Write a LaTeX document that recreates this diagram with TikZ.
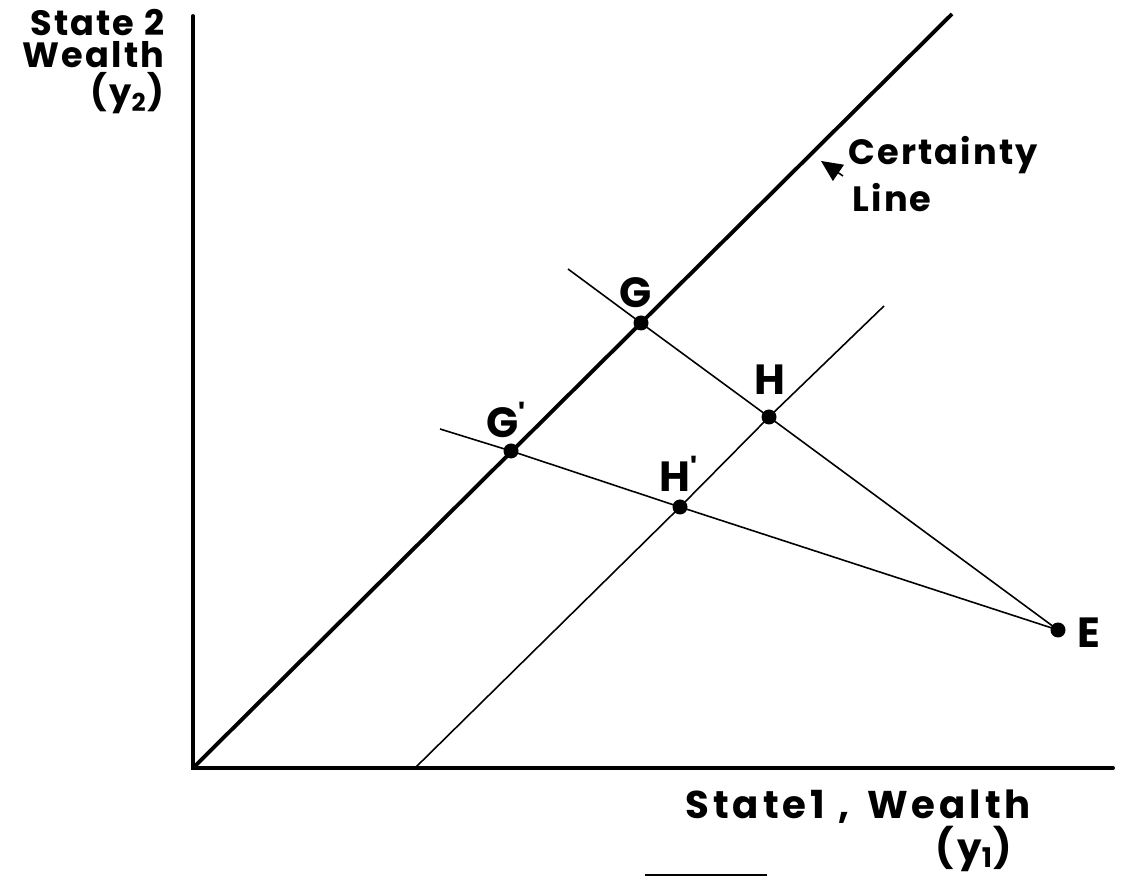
\documentclass[tikz,border=0pt]{standalone}
\usepackage{fontspec}
\setmainfont{Poppins}
\usetikzlibrary{arrows.meta}
\tikzset{
  axis/.style={line width=1.1pt, line cap=round},
  certline/.style={line width=1.1pt},
  thinline/.style={line width=0.45pt},
  dot/.style={circle, fill=black, inner sep=0pt, minimum size=0.15cm},
  lbl/.style={font=\fontsize{10}{12}\selectfont\bfseries\addfontfeatures{LetterSpace=6}, inner sep=0pt},
  biglbl/.style={font=\fontsize{11}{13}\selectfont\bfseries\addfontfeatures{LetterSpace=10}, inner sep=0pt},
  ptlbl/.style={font=\fontsize{12}{14}\selectfont\bfseries, inner sep=0pt},
}
\newcommand{\prm}{\raisebox{0.45ex}{\fontsize{9}{9}\selectfont\textquotesingle}}
\begin{document}
\begin{tikzpicture}[x=0.01cm,y=-0.01cm]
\useasboundingbox (0,0) rectangle (1125,877);
% axes
\coordinate (O) at (193,768);
\coordinate (ytop) at (193,16);
\coordinate (xend) at (1113,768);
\draw[axis] (ytop) -- (O) -- (xend);
% certainty line
\coordinate (ctop) at (952,14);
\draw[certline] (O) -- (ctop);
% second 45 degree line
\coordinate (s0) at (415,768);
\coordinate (s1) at (884,306);
% points
\node[dot] (G) at (641,323) {};
\node[dot] (Gp) at (511,451) {};
\node[dot] (H) at (769,417) {};
\node[dot] (Hp) at (680,507) {};
\node[dot] (E) at (1058,630) {};
\coordinate (gext) at (568,269);
\coordinate (gpext) at (440,429);
\draw[thinline] (s0) -- (Hp.center) -- (H.center) -- (s1);
\draw[thinline] (E.center) -- (H.center) -- (G.center) -- (gext);
\draw[thinline] (E.center) -- (Hp.center) -- (Gp.center) -- (gpext);
% point labels
\node[ptlbl, anchor=base] (lG) at (636,308) {G};
\node[ptlbl, anchor=base] (lH) at (770,395) {H};
\node[ptlbl, anchor=base west] (lGp) at (486,438) {G\prm};
\node[ptlbl, anchor=base west] (lHp) at (659,492) {H\prm};
\node[ptlbl, anchor=base west] (lE) at (1077,647) {E};
% axis labels
\node[lbl, anchor=base east] (y2a) at (165,36) {State 2};
\node[lbl, anchor=base east] (y2b) at (165,68) {Wealth};
\node[lbl, anchor=base east] (y2c) at (165,105) {(y\textsubscript{2})};
\node[biglbl, anchor=base west] (y1a) at (685,818) {State1\hspace{0.35em}, \hspace{0.15em}Wealth};
\node[biglbl, anchor=base east] (y1b) at (1013,861) {(y\textsubscript{1})};
% certainty label
\node[lbl, anchor=base west] (cert) at (848,165) {Certainty};
\node[lbl, anchor=base west] (line) at (852,212) {Line};
\coordinate (atail) at (843,176);
\coordinate (ahead) at (821,161);
\draw[thinline, -{Triangle[length=6pt,width=5.5pt]}] (atail) -- (ahead);
% short rule at bottom
\coordinate (r0) at (645,875);
\coordinate (r1) at (767,875);
\draw[line width=0.8pt] (r0) -- (r1);
\end{tikzpicture}
\end{document}
